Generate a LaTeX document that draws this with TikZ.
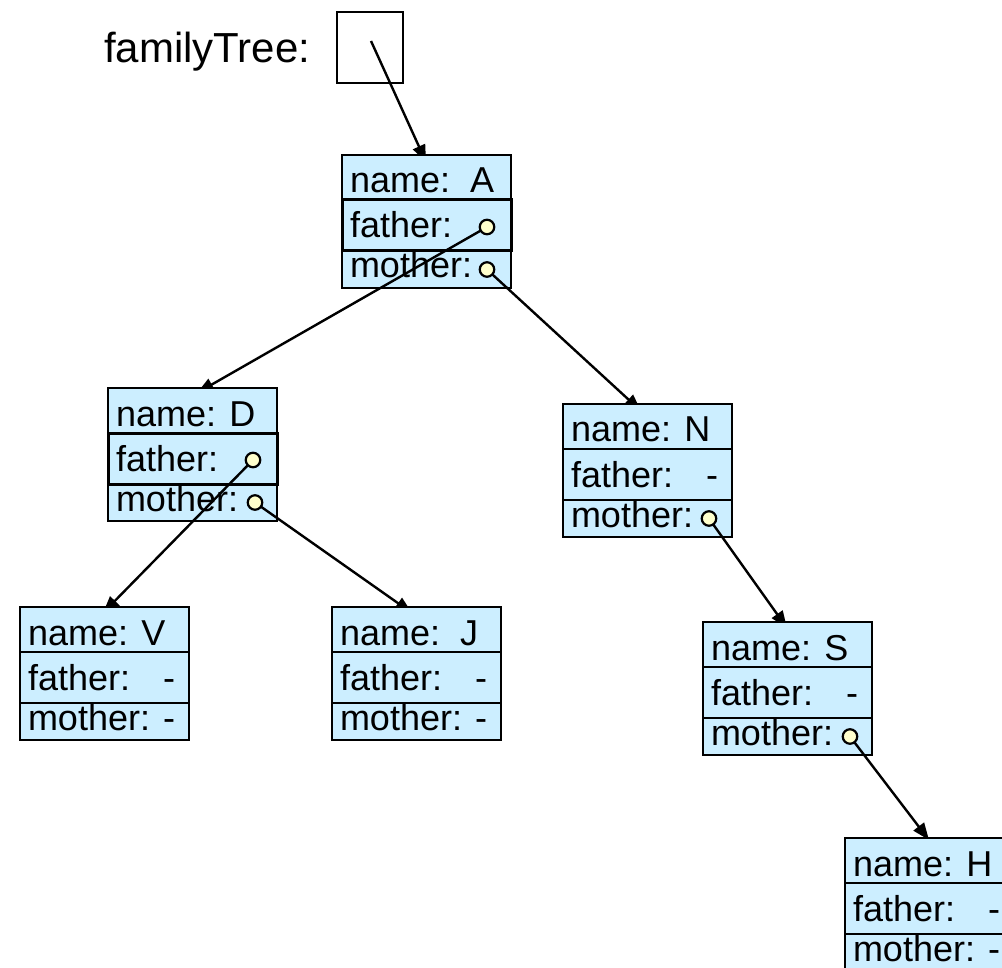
\documentclass[tikz,border=0pt]{standalone}
\usepackage{fontspec}
\setmainfont{Liberation Sans}
\usetikzlibrary{arrows.meta,calc}

\definecolor{cellblue}{RGB}{204,238,255}
\definecolor{dotyellow}{RGB}{255,255,204}

\newlength{\cellw}\setlength{\cellw}{169pt}
% one line of a record: left padding, text, right padding
\newcommand{\celltext}[1]{\makebox[\cellw][l]{\hspace{8pt}#1\hspace{14pt}}}

% \record[father style]{id}{x}{y}{name line}{father line}{mother line}
\newcommand{\record}[7][]{%
  \node[namerow] (#2-n) at (#3,#4) {\celltext{#5}};
  \node[motherrow] (#2-m) at ($(#2-n.south west)+(0,51)$) {\celltext{#7}};
  \node[fatherrow,#1] (#2-f) at (#2-n.south west) {\celltext{#6}};
}

\begin{document}
\begin{tikzpicture}[x=1pt,y=-1pt,
  cell/.style={draw, line width=2.4pt, fill=cellblue, inner sep=0pt, outer sep=0pt,
    minimum width=\cellw, anchor=north west, text depth=0pt,
    font=\fontsize{36}{40}\selectfont},
  namerow/.style={cell, minimum height=45pt, text height=31pt},
  fatherrow/.style={cell, minimum height=51pt, text height=25pt},
  motherrow/.style={cell, minimum height=37pt, text height=17pt},
  heavy/.style={line width=3pt},
  dot/.style={circle, draw, line width=2.2pt, fill=dotyellow, inner sep=0pt,
    outer sep=0pt, minimum size=14.5pt},
  link/.style={line width=2.4pt, -{Triangle[length=17pt,width=13pt]}},
]
\useasboundingbox (0,0) rectangle (1002,968);

% the variable holding the root reference
\node[anchor=base west, inner sep=0pt, font=\fontsize{42}{48}\selectfont]
  (label) at (104,63) {familyTree:};
\node[draw, line width=2.4pt, minimum width=66pt, minimum height=71pt,
  inner sep=0pt, outer sep=0pt, anchor=north west] (ptr) at (337,12) {};
\coordinate (ptr-src) at (371,41);
\coordinate (A-in) at (426,162);
\draw[link] (ptr-src) -- (A-in);

% A
\record[heavy]{A}{342}{155}{name:\ \ A}{father:}{mother:}
\node[dot] (A-fd) at ($(A-f.east)+(-24,1.5)$) {};
\node[dot] (A-md) at ($(A-m.east)+(-24,0)$) {};
\coordinate (D-in) at (197,393);
\coordinate (N-in) at (641,411);
\draw[link] (A-fd) -- (D-in);
\draw[link] (A-md) -- (N-in);

% D
\record[heavy]{D}{108}{388}{name: D}{father:}{mother:}
\node[dot] (D-fd) at ($(D-f.east)+(-24,1.5)$) {};
\node[dot] (D-md) at ($(D-m.east)+(-22,0)$) {};
\coordinate (V-in) at (103,613);
\coordinate (J-in) at (412,613);
\draw[link] (D-fd) -- (V-in);
\draw[link] (D-md) -- (J-in);

% N
\record{N}{563}{404}{name: N}{father:\hfill-}{mother:}
\node[dot] (N-md) at ($(N-m.east)+(-23,0)$) {};
\coordinate (S-in) at (787,628);
\draw[link] (N-md) -- (S-in);

% V and J
\record{V}{20}{607}{name: V}{father:\hfill-}{mother:\hfill-}
\record{J}{332}{607}{name:\ \ J}{father:\hfill-}{mother:\hfill-}

% S
\record{S}{703}{622}{name: S}{father:\hfill-}{mother:}
\node[dot] (S-md) at ($(S-m.east)+(-22,0)$) {};
\coordinate (H-in) at (929,840);
\draw[link] (S-md) -- (H-in);

% H
\record{H}{845}{838}{name: H}{father:\hfill-}{mother:\hfill-}
\end{tikzpicture}
\end{document}
